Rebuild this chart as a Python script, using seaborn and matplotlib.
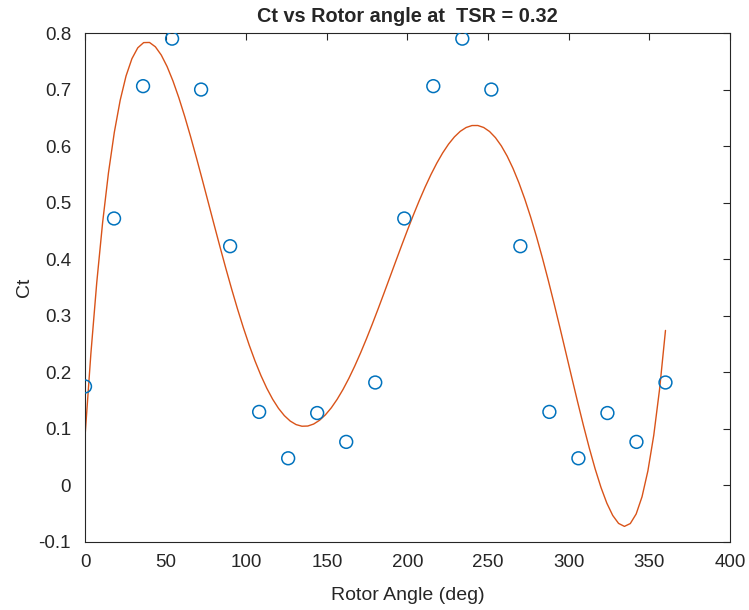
import matplotlib
matplotlib.use("Agg")
import matplotlib.pyplot as plt
import seaborn as sns
import numpy as np
import pandas as pd

angles = [0, 18, 36, 54, 72, 90, 108, 126, 144, 162, 180,
          198, 216, 234, 252, 270, 288, 306, 324, 342, 360]
ct = [0.175, 0.472, 0.706, 0.790, 0.700, 0.423, 0.130, 0.048, 0.128, 0.077, 0.182,
      0.472, 0.706, 0.790, 0.700, 0.423, 0.130, 0.048, 0.128, 0.077, 0.182]
xticks = [0, 50, 100, 150, 200, 250, 300, 350, 400]
yticks = [-0.1, 0, 0.1, 0.2, 0.3, 0.4, 0.5, 0.6, 0.7, 0.8]

df = pd.DataFrame({"angle": angles, "ct": ct})

sns.set_style("white")
plt.rcParams["font.family"] = ["Liberation Sans", "DejaVu Sans"]

fig = plt.figure(figsize=(7.49, 6.10), dpi=100)
ax = fig.add_axes([0.1135, 0.1115, 0.8611, 0.8344])

sns.regplot(data=df, x="angle", y="ct", order=6, ci=None, scatter=False,
            truncate=True, ax=ax, line_kws=dict(color="#D95319", lw=1.0))
sns.scatterplot(data=df, x="angle", y="ct", ax=ax, marker="o", s=85,
                facecolors="none", edgecolor="#0072BD", linewidth=1.1, zorder=3)

ax.set_xlim(0, 400)
ax.set_ylim(-0.1, 0.8)
ax.set_xticks(xticks)
ax.set_yticks(yticks)
ax.set_xticklabels([str(t) for t in xticks])
ax.set_yticklabels([f"{t:g}" for t in yticks])
ax.tick_params(direction="in", length=5, width=0.8, colors="#262626",
               labelsize=13.5, top=True, right=True, labelcolor="#262626")
ax.tick_params(axis="x", pad=9)
ax.tick_params(axis="y", pad=10)
for sp in ax.spines.values():
    sp.set_color("#262626")
    sp.set_linewidth(0.8)
ax.set_xlabel("Rotor Angle (deg)", fontsize=14, color="#262626", labelpad=11)
ax.set_ylabel("Ct", fontsize=14, color="#262626", labelpad=4)
ax.set_title("Ct vs Rotor angle at  TSR = 0.32", fontsize=14.3, fontweight="bold", pad=8)

fig.savefig("out.png", dpi=100)
